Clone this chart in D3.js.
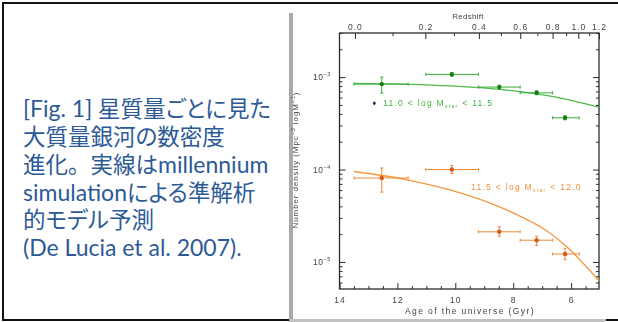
<!DOCTYPE html>
<html>
<head>
<meta charset="utf-8">
<script src="https://cdn.jsdelivr.net/npm/d3@7"></script>
<style>
  body { margin: 0; background: #fff; }
  svg { display: block; }
</style>
</head>
<body>
<svg id="chart" width="618" height="322"></svg>
<script>
// ---- caption (one array per line, split into runs) ----
const captionLines = [
  ["[Fig. 1] ", "星質量ごとに見た"],
  ["大質量銀河の数密度"],
  ["進化。実線は", "millennium"],
  ["simulation", "による準解析"],
  ["的モデル予測"],
  ["(De Lucia et al. 2007)."]
];

// ---- axes ----
const ageMajorTicks = [14, 12, 10, 8, 6];
const ageMinorTicks = [13.5, 13, 12.5, 11.5, 11, 10.5, 9.5, 9, 8.5, 7.5, 7, 6.5, 5.5];
const redshiftMajorTicks = [0.0, 0.2, 0.4, 0.6, 0.8, 1.0, 1.2];
const redshiftLabels = ["0.0", "0.2", "0.4", "0.6", "0.8", "1.0", "1.2"];
const redshiftMinorTicks = [0.1, 0.3, 0.5, 0.7, 0.9, 1.1];
const densityDecades = [1e-5, 1e-4, 1e-3];
const densityDecadeExponents = ["−5", "−4", "−3"];

// ---- observed bins (age of the universe, Gyr) ----
const binAge = [12.54, 10.12, 8.48, 7.19, 6.21];
const binAgeOld = [13.50, 11.02, 9.20, 7.76, 6.64];
const binAgeYoung = [11.63, 9.20, 7.76, 6.64, 5.72];

// 11.0 < log M_star < 11.5
const lowMassDensity = [8.4e-4, 1.07e-3, 7.8e-4, 6.76e-4, 3.63e-4];
const lowMassErrLow = [6.7e-4, 1.02e-3, 7.45e-4, 6.45e-4, 3.45e-4];
const lowMassErrHigh = [1.0e-3, 1.12e-3, 8.2e-4, 7.1e-4, 3.8e-4];

// 11.5 < log M_star < 12.0
const highMassDensity = [8.1e-5, 1.0e-4, 2.12e-5, 1.72e-5, 1.22e-5];
const highMassErrLow = [5.7e-5, 9.05e-5, 1.9e-5, 1.51e-5, 1.06e-5];
const highMassErrHigh = [1.04e-4, 1.11e-4, 2.4e-5, 1.9e-5, 1.39e-5];

// ---- semi-analytic model curves ----
const lowMassModelAge = [13.50, 11.63, 9.14, 7.76, 6.62, 5.03];
const lowMassModelDensity = [8.57e-4, 8.36e-4, 7.68e-4, 6.95e-4, 6.14e-4, 4.71e-4];
const highMassModelAge = [13.50, 11.63, 10.18, 8.00, 6.83, 6.14, 5.69, 5.03];
const highMassModelDensity = [9.52e-5, 7.70e-5, 6.01e-5, 3.39e-5, 2.16e-5, 1.45e-5, 1.05e-5, 6.22e-6];

// flat LCDM age–redshift relation for the top axis
const H0 = 70, OMEGA_M = 0.3;
const HUBBLE_TIME = 977.8 / H0; // Gyr
function ageAtZ(z) {
  const ol = 1 - OMEGA_M;
  return 2 / (3 * Math.sqrt(ol)) * HUBBLE_TIME *
    Math.asinh(Math.sqrt(ol / OMEGA_M) * Math.pow(1 + z, -1.5));
}

const svg = d3.select("#chart");

// ---- slide frame ----
const frame = svg.append("g");
frame.append("rect").attr("x", 2).attr("y", 2).attr("width", 616).attr("height", 2).attr("fill", "#111");
frame.append("rect").attr("x", 2).attr("y", 2).attr("width", 2).attr("height", 319).attr("fill", "#111");
frame.append("rect").attr("x", 2).attr("y", 319).attr("width", 288).attr("height", 2).attr("fill", "#111");
frame.append("rect").attr("x", 606).attr("y", 319).attr("width", 12).attr("height", 2).attr("fill", "#111");

// ---- caption text ----
const captionColor = "#2c5a97";
const captionBaselines = [117, 145, 173, 200.5, 228, 256];
const cap = svg.append("g").attr("fill", captionColor);
captionLines.forEach((runs, i) => {
  const t = cap.append("text").attr("x", 23).attr("y", captionBaselines[i]);
  runs.forEach((r, j) => {
    const latin = /^[\x00-\x7f]+$/.test(r);
    const span = t.append("tspan")
      .attr("font-family", latin ? "Lato, 'Noto Sans CJK JP'" : "'Noto Sans CJK JP'")
      .attr("font-size", latin ? 23 : 22.5)
      .text(r);
    // proportional kana, but keep the full-width ideographic full stop
    if (!latin && !r.includes("。")) span.style("font-feature-settings", "'palt'");
  });
});

// ---- chart image panel ----
const panel = svg.append("g");
panel.append("rect").attr("x", 289).attr("y", 13).attr("width", 4).attr("height", 309).attr("fill", "#a9a9a9");
panel.append("rect").attr("x", 290).attr("y", 319).attr("width", 316).attr("height", 3).attr("fill", "#c2c2c2");

svg.append("defs").append("filter").attr("id", "soft")
  .append("feGaussianBlur").attr("stdDeviation", 0.35);

const g = svg.append("g").attr("filter", "url(#soft)");

const plot = { left: 339.5, right: 599, top: 33, bottom: 289 };
const x = d3.scaleLinear().domain([14, ageAtZ(1.2)]).range([plot.left, plot.right]);
const y = d3.scaleLog().domain([5.1e-6, 3e-3]).range([plot.bottom, plot.top]);

const ink = "#2b2b2b";
const labelInk = "#444";
const tickFont = "'Liberation Sans', Arial, sans-serif";

function tidy(sel) {
  sel.select(".domain").remove();
  sel.selectAll(".tick line").attr("stroke", ink).attr("stroke-width", 1);
  sel.selectAll(".tick text").attr("fill", labelInk).attr("font-family", tickFont).attr("font-size", 8.5);
}

// bottom axis (age)
g.append("g").attr("transform", `translate(0,${plot.bottom})`)
  .call(d3.axisBottom(x).tickValues(ageMajorTicks).tickSize(-6).tickFormat(d3.format("d")))
  .call(tidy)
  .call(s => s.selectAll(".tick text").attr("y", 14).attr("dy", 0).attr("letter-spacing", 1));
g.append("g").attr("transform", `translate(0,${plot.bottom})`)
  .call(d3.axisBottom(x).tickValues(ageMinorTicks).tickSize(-3).tickFormat(""))
  .call(tidy);

// top axis (redshift)
const zAges = redshiftMajorTicks.map(ageAtZ);
g.append("g").attr("transform", `translate(0,${plot.top})`)
  .call(d3.axisTop(x).tickValues(zAges).tickSize(-6).tickFormat((d, i) => redshiftLabels[i]))
  .call(tidy)
  .call(s => s.selectAll(".tick text").attr("y", -3.5).attr("dy", 0).attr("letter-spacing", 1));
g.append("g").attr("transform", `translate(0,${plot.top})`)
  .call(d3.axisTop(x).tickValues(redshiftMinorTicks.map(ageAtZ)).tickSize(-3).tickFormat(""))
  .call(tidy);

// log minor ticks
const minorDensity = [];
[1e-6, 1e-5, 1e-4, 1e-3].forEach(d => {
  for (let k = 2; k <= 9; k++) {
    const v = d * k;
    if (v >= y.domain()[0] && v <= y.domain()[1]) minorDensity.push(v);
  }
});

// left axis
g.append("g").attr("transform", `translate(${plot.left},0)`)
  .call(d3.axisLeft(y).tickValues(densityDecades).tickSize(-6).tickFormat(""))
  .call(tidy);
g.append("g").attr("transform", `translate(${plot.left},0)`)
  .call(d3.axisLeft(y).tickValues(minorDensity).tickSize(-3).tickFormat(""))
  .call(tidy);
// right axis
g.append("g").attr("transform", `translate(${plot.right},0)`)
  .call(d3.axisRight(y).tickValues(densityDecades).tickSize(-6).tickFormat(""))
  .call(tidy);
g.append("g").attr("transform", `translate(${plot.right},0)`)
  .call(d3.axisRight(y).tickValues(minorDensity).tickSize(-3).tickFormat(""))
  .call(tidy);

// decade labels 10^n
densityDecades.forEach((v, i) => {
  const t = g.append("text")
    .attr("x", 313).attr("y", y(v) + 3)
    .attr("fill", labelInk).attr("font-family", tickFont).attr("font-size", 8.5)
    .attr("letter-spacing", 0.5);
  t.append("tspan").text("10");
  t.append("tspan").attr("font-size", 5.5).attr("dy", -4).text(densityDecadeExponents[i]);
});

// frame box
g.append("rect")
  .attr("x", plot.left).attr("y", plot.top)
  .attr("width", plot.right - plot.left).attr("height", plot.bottom - plot.top)
  .attr("fill", "none").attr("stroke", ink).attr("stroke-width", 1.3);

// axis titles
g.append("text").attr("x", 468).attr("y", 19).attr("text-anchor", "middle")
  .attr("fill", labelInk).attr("font-family", tickFont).attr("font-size", 8)
  .attr("letter-spacing", 0.3).text("Redshift");
g.append("text").attr("x", 470).attr("y", 314).attr("text-anchor", "middle")
  .attr("fill", labelInk).attr("font-family", tickFont).attr("font-size", 8.5)
  .attr("letter-spacing", 1.4).text("Age of the universe (Gyr)");

const yTitle = g.append("text")
  .attr("transform", "translate(298,160) rotate(-90)")
  .attr("text-anchor", "middle")
  .attr("fill", labelInk).attr("font-family", tickFont).attr("font-size", 8)
  .attr("letter-spacing", 0.9);
yTitle.append("tspan").text("Number density (Mpc");
yTitle.append("tspan").attr("font-size", 5.5).attr("dy", -3.5).text("−3");
yTitle.append("tspan").attr("dy", 3.5).text(" logM");
yTitle.append("tspan").attr("font-size", 5.5).attr("dy", -3.5).text("−1");
yTitle.append("tspan").attr("dy", 3.5).text(")");

// ---- series ----
const series = [
  { age: binAge, old: binAgeOld, young: binAgeYoung, val: lowMassDensity,
    lo: lowMassErrLow, hi: lowMassErrHigh, mAge: lowMassModelAge, mVal: lowMassModelDensity,
    line: "#4dbb4d", bar: "#3aae3a", dot: "#137d13" },
  { age: binAge, old: binAgeOld, young: binAgeYoung, val: highMassDensity,
    lo: highMassErrLow, hi: highMassErrHigh, mAge: highMassModelAge, mVal: highMassModelDensity,
    line: "#f5983f", bar: "#f08a35", dot: "#d9561c" }
];

const lineGen = d3.line().x(d => x(d[0])).y(d => y(d[1])).curve(d3.curveMonotoneX);

series.forEach(s => {
  g.append("path")
    .datum(d3.zip(s.mAge, s.mVal))
    .attr("d", lineGen)
    .attr("fill", "none").attr("stroke", s.line).attr("stroke-width", 1.3);

  const pts = s.age.map((a, i) => ({ a, o: s.old[i], yg: s.young[i], v: s.val[i], lo: s.lo[i], hi: s.hi[i] }));
  const pg = g.append("g").attr("stroke", s.bar).attr("stroke-width", 1);
  const capW = 1.6;
  pts.forEach(p => {
    const cx = x(p.a), cy = y(p.v);
    pg.append("line").attr("x1", x(p.o)).attr("x2", x(p.yg)).attr("y1", cy).attr("y2", cy);
    pg.append("line").attr("x1", x(p.o)).attr("x2", x(p.o)).attr("y1", cy - capW).attr("y2", cy + capW);
    pg.append("line").attr("x1", x(p.yg)).attr("x2", x(p.yg)).attr("y1", cy - capW).attr("y2", cy + capW);
    pg.append("line").attr("x1", cx).attr("x2", cx).attr("y1", y(p.lo)).attr("y2", y(p.hi));
    pg.append("line").attr("x1", cx - capW).attr("x2", cx + capW).attr("y1", y(p.lo)).attr("y2", y(p.lo));
    pg.append("line").attr("x1", cx - capW).attr("x2", cx + capW).attr("y1", y(p.hi)).attr("y2", y(p.hi));
  });
  g.append("g").selectAll("circle").data(pts).join("circle")
    .attr("cx", p => x(p.a)).attr("cy", p => y(p.v)).attr("r", 2.2)
    .attr("fill", s.dot);
});

// mass-bin labels
function massLabel(xp, yp, lo, hi, color) {
  const t = g.append("text").attr("x", xp).attr("y", yp)
    .attr("fill", color).attr("font-family", tickFont).attr("font-size", 8.5)
    .attr("letter-spacing", 1.3);
  t.append("tspan").text(`${lo} < log M`);
  t.append("tspan").attr("font-size", 5).attr("dy", 2).text("star");
  t.append("tspan").attr("dy", -2).text(` < ${hi}`);
}
massLabel(383, 106, "11.0", "11.5", "#3db53d");
massLabel(471, 190, "11.5", "12.0", "#f0903a");

// small marker beside the low-mass label
g.append("ellipse").attr("cx", 374.3).attr("cy", 103.3).attr("rx", 1.3).attr("ry", 1.7).attr("fill", "#1c2350");
</script>
</body>
</html>
